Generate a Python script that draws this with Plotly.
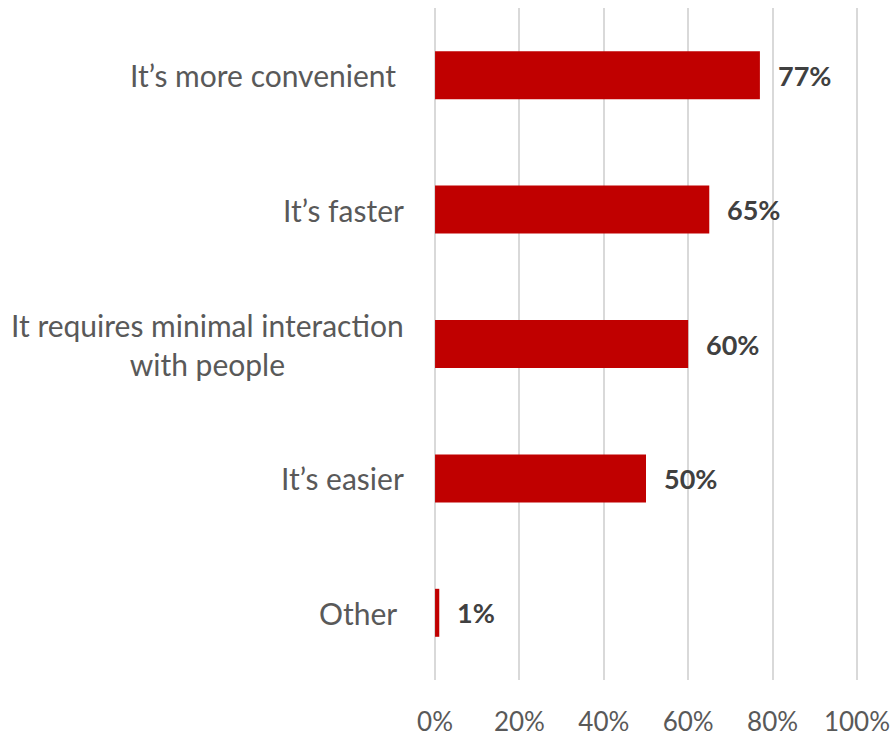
import plotly.graph_objects as go

# Survey reasons and share of respondents (%)
categories = [
    "It\u2019s more convenient\u00a0",
    "It\u2019s faster",
    "It requires minimal interaction<br>with people",
    "It\u2019s easier",
    "Other\u00a0",
]
values = [77, 65, 60, 50, 1]
tick_vals = [0, 20, 40, 60, 80, 100]
tick_text = ["0%", "20%", "40%", "60%", "80%", "100%"]

FONT = "Lato, Calibri, Carlito, sans-serif"
BAR_RED = "#C00000"
LABEL_GREY = "#595959"
VALUE_GREY = "#404040"

y_keys = list(range(len(categories)))

fig = go.Figure(
    go.Bar(
        x=values,
        y=y_keys,
        orientation="h",
        marker=dict(color=BAR_RED, line=dict(width=0)),
        hoverinfo="skip",
    )
)

# value labels to the right of each bar
for yk, v in zip(y_keys, values):
    fig.add_annotation(
        x=v, y=yk, xref="x", yref="y",
        text=f"<b>{v}%</b>",
        showarrow=False, xanchor="left", yanchor="middle", xshift=16,
        font=dict(family=FONT, size=27, color=VALUE_GREY),
    )

# category labels, centred when wrapped over two lines
for yk, c in zip(y_keys, categories):
    fig.add_annotation(
        x=0, y=yk, xref="paper", yref="y",
        text=c, align="center",
        showarrow=False, xanchor="right", yanchor="middle", xshift=-28,
        font=dict(family=FONT, size=30, color=LABEL_GREY),
    )

fig.update_layout(
    width=895, height=736,
    margin=dict(l=434, r=37, t=8, b=56),
    paper_bgcolor="white", plot_bgcolor="white",
    showlegend=False,
    bargap=0.643,
    font=dict(family=FONT, color=LABEL_GREY),
    xaxis=dict(
        # padded slightly so the 0% and 100% grid lines are drawn
        range=[-0.25, 100.25],
        tickvals=tick_vals, ticktext=tick_text,
        showgrid=True, gridcolor="#D9D9D9", gridwidth=2,
        zeroline=False, showline=False,
        ticks="outside", ticklen=19, tickcolor="rgba(0,0,0,0)",
        tickfont=dict(family=FONT, size=26, color=LABEL_GREY),
        automargin=False,
        fixedrange=True,
    ),
    yaxis=dict(
        range=[len(categories) - 0.5, -0.5],
        showticklabels=False, showgrid=False, zeroline=False, showline=False,
        automargin=False,
        fixedrange=True,
    ),
)

fig.write_html("out.html")
